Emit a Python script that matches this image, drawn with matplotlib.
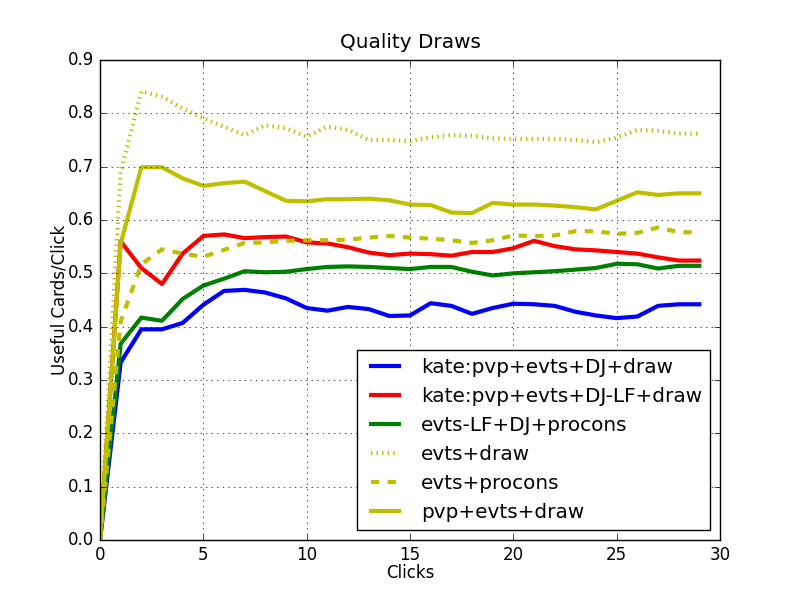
import matplotlib
matplotlib.use('Agg')
import matplotlib.pyplot as plt

plt.style.use('classic')

clicks = list(range(30))

# kate:pvp+evts+DJ+draw
kate_dj = [0.0, 0.333, 0.395, 0.395, 0.407, 0.441, 0.467, 0.469, 0.464, 0.453,
           0.435, 0.430, 0.437, 0.433, 0.420, 0.421, 0.444, 0.439, 0.424, 0.435,
           0.443, 0.442, 0.439, 0.428, 0.421, 0.416, 0.419, 0.439, 0.442, 0.442]
# kate:pvp+evts+DJ-LF+draw
kate_dj_lf = [0.0, 0.560, 0.510, 0.480, 0.537, 0.570, 0.573, 0.566, 0.568, 0.569,
              0.558, 0.556, 0.549, 0.539, 0.534, 0.537, 0.536, 0.533, 0.540, 0.540,
              0.547, 0.561, 0.551, 0.545, 0.543, 0.540, 0.537, 0.530, 0.524, 0.524]
# evts-LF+DJ+procons
evts_lf = [0.0, 0.368, 0.417, 0.411, 0.452, 0.477, 0.490, 0.504, 0.502, 0.503,
           0.508, 0.512, 0.513, 0.512, 0.510, 0.508, 0.512, 0.512, 0.503, 0.496,
           0.500, 0.502, 0.504, 0.507, 0.510, 0.518, 0.517, 0.509, 0.514, 0.514]
# evts+draw
evts_draw = [0.0, 0.690, 0.841, 0.831, 0.809, 0.791, 0.775, 0.759, 0.778, 0.772,
             0.756, 0.775, 0.769, 0.750, 0.750, 0.748, 0.755, 0.759, 0.758, 0.753,
             0.752, 0.752, 0.752, 0.750, 0.746, 0.754, 0.769, 0.767, 0.762, 0.762]
# evts+procons
evts_procons = [0.0, 0.410, 0.517, 0.545, 0.537, 0.531, 0.544, 0.557, 0.558, 0.561,
                0.562, 0.562, 0.563, 0.567, 0.570, 0.567, 0.565, 0.562, 0.557, 0.562,
                0.571, 0.570, 0.571, 0.579, 0.579, 0.574, 0.576, 0.586, 0.577, 0.577]
# pvp+evts+draw
pvp_draw = [0.0, 0.556, 0.699, 0.699, 0.678, 0.664, 0.669, 0.672, 0.654, 0.636,
            0.635, 0.639, 0.639, 0.640, 0.637, 0.629, 0.628, 0.614, 0.613, 0.632,
            0.629, 0.629, 0.627, 0.624, 0.620, 0.636, 0.652, 0.647, 0.650, 0.650]

fig = plt.figure(figsize=(8, 6), dpi=100)
ax = fig.add_subplot(111)

ax.plot(clicks, kate_dj, 'b-', lw=3, label='kate:pvp+evts+DJ+draw')
ax.plot(clicks, kate_dj_lf, 'r-', lw=3, label='kate:pvp+evts+DJ-LF+draw')
ax.plot(clicks, evts_lf, 'g-', lw=3, label='evts-LF+DJ+procons')
ax.plot(clicks, evts_draw, 'y:', lw=3, label='evts+draw')
ax.plot(clicks, evts_procons, 'y--', lw=3, label='evts+procons')
ax.plot(clicks, pvp_draw, 'y-', lw=3, label='pvp+evts+draw')

ax.set_xlim(0, 30)
ax.set_ylim(0, 0.9)
ax.set_title('Quality Draws', pad=9)
ax.set_xlabel('Clicks', labelpad=0)
ax.set_ylabel('Useful Cards/Click', labelpad=0)
ax.grid(True)
ax.legend(loc='lower right')

fig.savefig('out.png', dpi=100)
